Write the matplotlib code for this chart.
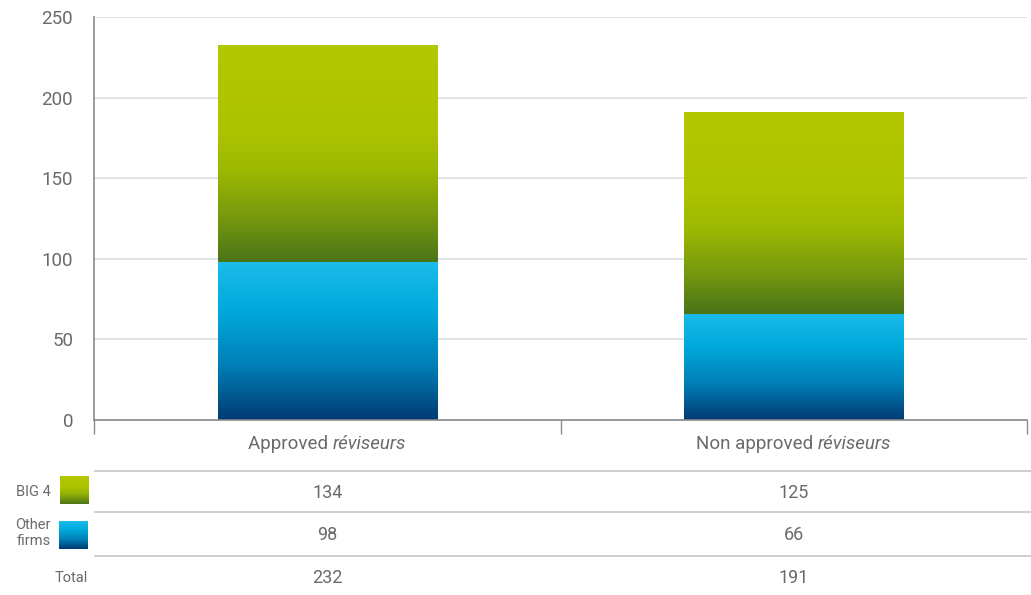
import numpy as np
import matplotlib
matplotlib.use('Agg')
import matplotlib.pyplot as plt
from matplotlib.colors import LinearSegmentedColormap
from matplotlib.offsetbox import TextArea, HPacker, AnnotationBbox

plt.rcParams['font.family'] = ['Roboto', 'DejaVu Sans']

categories = ['Approved', 'Non approved']
category_suffix = ['réviseurs', 'réviseurs']
series_names = ['BIG 4', 'Other\nfirms']
big4 = [134, 125]
other_firms = [98, 66]
totals = [232, 191]
y_ticks = [0, 50, 100, 150, 200, 250]

TEXT = '#6a6a6a'
AXIS = '#8a8a8a'
GRID = '#dedede'

green_cmap = LinearSegmentedColormap.from_list(
    'green', [(0.0, '#4a7418'), (0.2, '#76980f'), (0.42, '#9cb802'),
              (0.6, '#acc300'), (1.0, '#b4c800')])
blue_cmap = LinearSegmentedColormap.from_list(
    'blue', [(0.0, '#003a72'), (0.35, '#0080b8'), (0.7, '#00aadd'),
             (1.0, '#1cbbea')])
gradient = np.linspace(0, 1, 256).reshape(-1, 1)

W, H = 1031, 595
fig = plt.figure(figsize=(W / 100, H / 100), dpi=100)

# main chart area, in pixels of the reference
ax = fig.add_axes([94 / W, (H - 420) / H, 933 / W, 403 / H])
x = np.arange(len(categories))
bars_other = ax.bar(x, other_firms, width=0.47, color='none', edgecolor='none')
bars_big4 = ax.bar(x, big4, width=0.47, bottom=other_firms, color='none',
                   edgecolor='none')

for bars, cmap in ((bars_other, blue_cmap), (bars_big4, green_cmap)):
  for p in bars:
    x0, y0 = p.get_x(), p.get_y()
    ax.imshow(gradient, cmap=cmap, origin='lower', aspect='auto',
              extent=(x0, x0 + p.get_width(), y0, y0 + p.get_height()),
              zorder=2, interpolation='bilinear')

ax.set_xlim(-0.5, 1.5)
ax.set_ylim(0, 250)
ax.set_yticks(y_ticks)
ax.set_yticklabels([str(v) for v in y_ticks])
ax.yaxis.grid(True, color=GRID, linewidth=1.2)
ax.set_axisbelow(True)
ax.tick_params(axis='y', length=0, pad=15, labelsize=13.5, labelcolor=TEXT)
ax.set_xticks(x)
ax.set_xticklabels([])
ax.set_xticks([-0.5, 0.5, 1.5], minor=True)
ax.tick_params(axis='x', which='major', length=0)
ax.tick_params(axis='x', which='minor', length=10, width=1, color=AXIS)
for side in ('top', 'right'):
  ax.spines[side].set_visible(False)
for side in ('left', 'bottom'):
  ax.spines[side].set_color(AXIS)
  ax.spines[side].set_linewidth(1.2)
ax.spines['left'].set_bounds(0, 250)

# category labels with italic suffix
for xi, name, suffix in zip(x, categories, category_suffix):
  box = HPacker(children=[
      TextArea(name + ' ', textprops=dict(color=TEXT, fontsize=13.5)),
      TextArea(suffix, textprops=dict(color=TEXT, fontsize=13.5,
                                      style='italic')),
  ], align='baseline', pad=0, sep=0)
  ab = AnnotationBbox(box, (xi, 0), xycoords=('data', 'axes fraction'),
                      xybox=(0, -17), boxcoords='offset points',
                      frameon=False, box_alignment=(0.5, 0.5))
  ax.add_artist(ab)

# data table underneath
tax = fig.add_axes([94 / W, 0, 933 / W, 135 / H])
tax.set_xlim(-0.5, 1.5)
tax.set_ylim(595, 460)
tax.axis('off')
for yl in (471, 512, 556):
  tax.plot([-0.498, 1.51], [yl, yl], color='#cccccc', linewidth=1.3,
           clip_on=False)
for xi in x:
  tax.text(xi, 493, str(big4[xi]), ha='center', va='center', fontsize=13,
           color=TEXT)
  tax.text(xi, 535, str(other_firms[xi]), ha='center', va='center',
           fontsize=13, color=TEXT)
  tax.text(xi, 578, str(totals[xi]), ha='center', va='center', fontsize=13,
           color=TEXT)

fig.text(51 / W, 1 - 492 / H, series_names[0], ha='right', va='center',
         fontsize=10.5, color=TEXT)
fig.text(51 / W, 1 - 533 / H, series_names[1], ha='right', va='center',
         fontsize=10.5, color=TEXT, linespacing=1.1, multialignment='right')
fig.text(88 / W, 1 - 578 / H, 'Total', ha='right', va='center',
         fontsize=10.5, color=TEXT)

# legend swatches
for (top, left), cmap in (((476, 60), green_cmap), ((521, 59), blue_cmap)):
  sax = fig.add_axes([left / W, (H - top - 28) / H, 29 / W, 28 / H])
  sax.imshow(gradient, cmap=cmap, origin='lower', aspect='auto',
             interpolation='bilinear')
  sax.axis('off')

fig.savefig('out.png', dpi=100)
